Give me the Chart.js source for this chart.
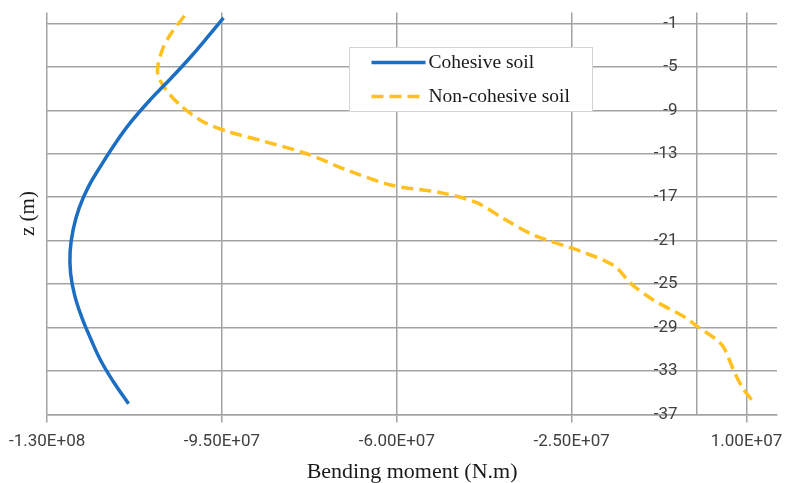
<!DOCTYPE html>
<html>
<head>
<meta charset="utf-8">
<script src="https://cdn.jsdelivr.net/npm/chart.js@4/dist/chart.umd.min.js"></script>
<style>
  body { margin: 0; background: #fff; }
  #wrap { width: 786px; height: 483px; position: relative; }
</style>
</head>
<body>
<div id="wrap"><canvas id="chart"></canvas></div>
<script>
// depth (m) and bending moment (N.m)
const zCohesive = [-0.5, -2, -4, -6, -8, -10, -12, -14, -16, -18, -20, -22, -24, -26, -28, -30, -32, -34, -36];
const momentCohesive = [-9.47e7, -9.74e7, -1.011e8, -1.051e8, -1.093e8, -1.131e8, -1.163e8, -1.191e8, -1.217e8, -1.236e8,
  -1.248e8, -1.254e8, -1.253e8, -1.245e8, -1.231e8, -1.213e8, -1.193e8, -1.167e8, -1.137e8];

const zNonCohesive = [-0.3, -2, -3.5, -5.5, -7, -8.5, -10, -11, -11.8, -13, -14.5, -15.9, -16.6, -17.5, -19, -20.5,
  -22, -23.3, -25, -26.5, -28, -29, -30, -30.8, -33, -34.6, -36];
const momentNonCohesive = [-1.025e8, -1.053e8, -1.070e8, -1.079e8, -1.064e8, -1.034e8, -9.9e7, -9.35e7, -8.7e7, -7.8e7,
  -7.0e7, -6.1e7, -5.1e7, -4.4e7, -3.85e7, -3.25e7, -2.3e7, -1.65e7, -1.3e7, -8.5e6, -2.5e6, 0.5e6, 3.7e6, 5.4e6,
  7.5e6, 9.3e6, 1.17e7];

const xTicks = [-1.3e8, -9.5e7, -6e7, -2.5e7, 1e7];
const xMin = -1.3e8, xMax = 1.61e7;
const zTicks = [-1, -5, -9, -13, -17, -21, -25, -29, -33, -37];
const zAxisAt = 0;          // vertical axis crosses at M = 0
const zLabelsAt = -3.8e6;   // depth labels sit a little left of that line

const seriesNames = ["Cohesive soil", "Non-cohesive soil"];
const seriesColors = ["#1b6ec2", "#ffc020"];

const gridColor = "#a3a3a3";
const clear = "rgba(0,0,0,0)";
const tickFont = { family: "Roboto", size: 17 };

function sci(v) {
  const parts = v.toExponential(2).split("e");
  const n = parseInt(parts[1], 10);
  return parts[0] + "E" + (n < 0 ? "-" : "+") + String(Math.abs(n)).padStart(2, "0");
}

const pairs = (xs, ys) => xs.map((x, i) => ({ x: x, y: ys[i] }));

// legend box inside the plot, like the Excel one
const boxLegend = {
  id: "boxLegend",
  afterDraw(chart) {
    const ctx = chart.ctx;
    const left = 349.5, top = 47.5, w = 243, h = 64;
    ctx.save();
    ctx.fillStyle = "#fff";
    ctx.fillRect(left, top, w, h);
    ctx.strokeStyle = "#d4d4d4";
    ctx.lineWidth = 1;
    ctx.strokeRect(left, top, w, h);
    ctx.font = "19.5px 'Liberation Serif'";
    ctx.textBaseline = "middle";
    chart.data.datasets.forEach((ds, i) => {
      const y = top + 15 + i * 34;
      ctx.strokeStyle = ds.borderColor;
      ctx.lineWidth = ds.borderWidth;
      ctx.setLineDash(ds.borderDash || []);
      ctx.beginPath();
      ctx.moveTo(left + 22, y);
      ctx.lineTo(left + 76, y);
      ctx.stroke();
      ctx.setLineDash([]);
      ctx.fillStyle = "#1a1a1a";
      ctx.fillText(ds.label, left + 79, y);
    });
    ctx.restore();
  }
};

const isLabelled = v => xTicks.includes(v);

new Chart(document.getElementById("chart"), {
  type: "scatter",
  data: {
    datasets: [
      {
        label: seriesNames[0],
        data: pairs(momentCohesive, zCohesive),
        showLine: true,
        borderColor: seriesColors[0],
        backgroundColor: seriesColors[0],
        borderWidth: 3.5,
        pointRadius: 0,
        tension: 0.4
      },
      {
        label: seriesNames[1],
        data: pairs(momentNonCohesive, zNonCohesive),
        showLine: true,
        borderColor: seriesColors[1],
        backgroundColor: seriesColors[1],
        borderWidth: 3.5,
        borderDash: [12, 6],
        pointRadius: 0,
        tension: 0.3
      }
    ]
  },
  options: {
    responsive: true,
    maintainAspectRatio: false,
    animation: false,
    layout: { padding: { top: 12.5, right: 9, bottom: 0, left: 0 } },
    plugins: {
      legend: { display: false },
      tooltip: { enabled: false }
    },
    scales: {
      x: {
        type: "linear",
        min: xMin,
        max: xMax,
        // unlabelled extra ticks: the zero line and the right edge
        afterBuildTicks: s => {
          s.ticks = xTicks.concat([zAxisAt, xMax]).sort((a, b) => a - b).map(v => ({ value: v }));
        },
        ticks: {
          callback: v => (isLabelled(v) ? sci(v) : ""),
          font: tickFont, color: "#404040", padding: 9, maxRotation: 0, autoSkip: false
        },
        grid: {
          lineWidth: 1.5, tickLength: 8,
          color: c => (c.tick && c.tick.value === xMax ? clear : gridColor),
          tickColor: c => (c.tick && isLabelled(c.tick.value) ? gridColor : clear)
        },
        border: { color: gridColor, width: 1.5 },
        title: {
          display: true,
          text: "Bending moment (N.m)",
          font: { family: "Liberation Serif", size: 22, lineHeight: 1 },
          color: "#1a1a1a",
          padding: { top: 0, bottom: 0 }
        }
      },
      y: {
        type: "linear",
        position: { x: zLabelsAt },
        min: -37,
        max: 0,
        afterBuildTicks: s => { s.ticks = zTicks.map(v => ({ value: v })); },
        ticks: { font: tickFont, color: "#404040", padding: 0 },
        grid: { color: gridColor, lineWidth: 1.5, drawTicks: false },
        border: { display: false }
      },
      yTitle: {
        type: "linear",
        axis: "y",
        position: "left",
        ticks: { display: false },
        grid: { display: false, drawTicks: false },
        border: { display: false },
        title: {
          display: true,
          text: "z (m)",
          font: { family: "Liberation Serif", size: 21 },
          color: "#1a1a1a",
          padding: { top: 15, bottom: 6.5 }
        }
      }
    }
  },
  plugins: [boxLegend]
});
</script>
</body>
</html>
